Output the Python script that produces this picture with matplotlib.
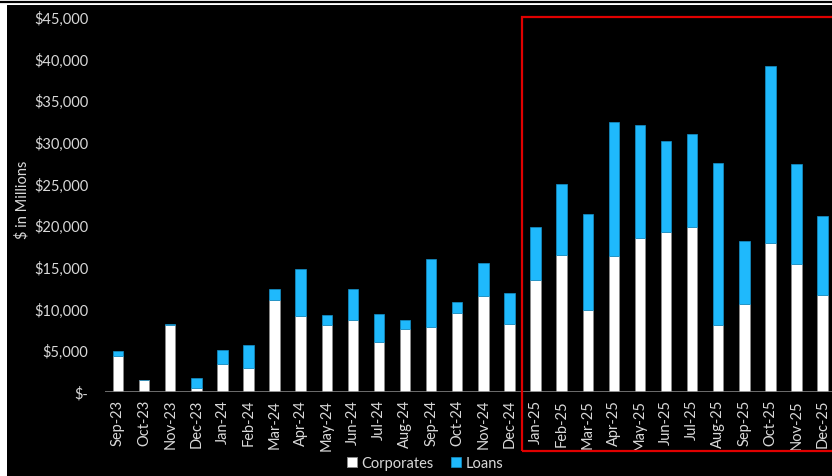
import matplotlib.pyplot as plt
import numpy as np
from matplotlib.patches import Rectangle
from matplotlib.lines import Line2D

plt.rcParams['font.family'] = ['Lato', 'DejaVu Sans']

months = ["Sep-23", "Oct-23", "Nov-23", "Dec-23", "Jan-24", "Feb-24", "Mar-24",
          "Apr-24", "May-24", "Jun-24", "Jul-24", "Aug-24", "Sep-24", "Oct-24",
          "Nov-24", "Dec-24", "Jan-25", "Feb-25", "Mar-25", "Apr-25", "May-25",
          "Jun-25", "Jul-25", "Aug-25", "Sep-25", "Oct-25", "Nov-25", "Dec-25"]

# $ in millions
corporates = [4270, 1400, 8100, 480, 3360, 2900, 11000, 9160, 8000, 8680, 5960,
              7600, 7800, 9440, 11560, 8160, 13400, 16480, 9840, 16320, 18520,
              19200, 19760, 8000, 10600, 17840, 15400, 11640]
loans = [600, 0, 60, 1240, 1640, 2700, 1400, 5640, 1240, 3720, 3360, 1080, 8160,
         1360, 3920, 3760, 6400, 8440, 11520, 16040, 13560, 10920, 11160, 19520,
         7480, 21280, 11960, 9440]

y_ticks = np.arange(0, 45001, 5000)

W, H = 832, 477
fig = plt.figure(figsize=(W / 100, H / 100), dpi=100, facecolor="white")

# black panel and top border line
fig.patches.append(Rectangle((7 / W, 0), 1, 1 - 6 / H, transform=fig.transFigure,
                             facecolor="black", edgecolor="none", zorder=-10))
fig.add_artist(Line2D([0, 1], [1 - 3 / H, 1 - 3 / H], transform=fig.transFigure,
                      color="black", lw=1.6))

ax = fig.add_axes([105 / W, (H - 393) / H, (W - 105) / W, 375 / H])
ax.set_facecolor("black")

x = np.arange(len(months))
text_col = "#D9D9D9"
fs = 10.5

ax.bar(x, corporates, width=0.4, color="white", edgecolor="#8a8a8a",
       linewidth=0.7, label="Corporates", zorder=3)
ax.bar(x, loans, width=0.4, bottom=corporates, color="#1FB9FC",
       edgecolor="#1590c8", linewidth=0.5, label="Loans", zorder=3)

ax.set_xlim(-0.5, 27.36)
ax.set_ylim(0, 45000)
ax.axhline(0, color="#808080", lw=1.2, zorder=4)

for s in ax.spines.values():
    s.set_visible(False)

ax.set_xticks(x)
ax.set_xticklabels(months, rotation=90, color=text_col, fontsize=fs)
ax.set_yticks(y_ticks)
ax.set_yticklabels(["$-" if v == 0 else f"${v:,.0f}" for v in y_ticks],
                   color=text_col, fontsize=fs)
ax.tick_params(axis="x", length=0, pad=5)
ax.tick_params(axis="y", length=0, pad=12)

fig.text(22 / W, 1 - 200 / H, "$ in Millions", rotation=90, color=text_col,
         fontsize=fs, ha="center", va="center")

fig.legend(loc="center", bbox_to_anchor=(425 / W, 1 - 464 / H), ncol=2,
           frameon=False, fontsize=fs, labelcolor=text_col,
           handlelength=0.7, handleheight=0.7, handletextpad=0.3,
           columnspacing=1.2)

# red highlight box around 2025
fig.patches.append(Rectangle((522 / W, (H - 452) / H), (W - 522 + 10) / W,
                             434 / H, transform=fig.transFigure, fill=False,
                             edgecolor="#E00000", linewidth=1.6, zorder=10))

fig.savefig("out.png", dpi=100, facecolor="white")
